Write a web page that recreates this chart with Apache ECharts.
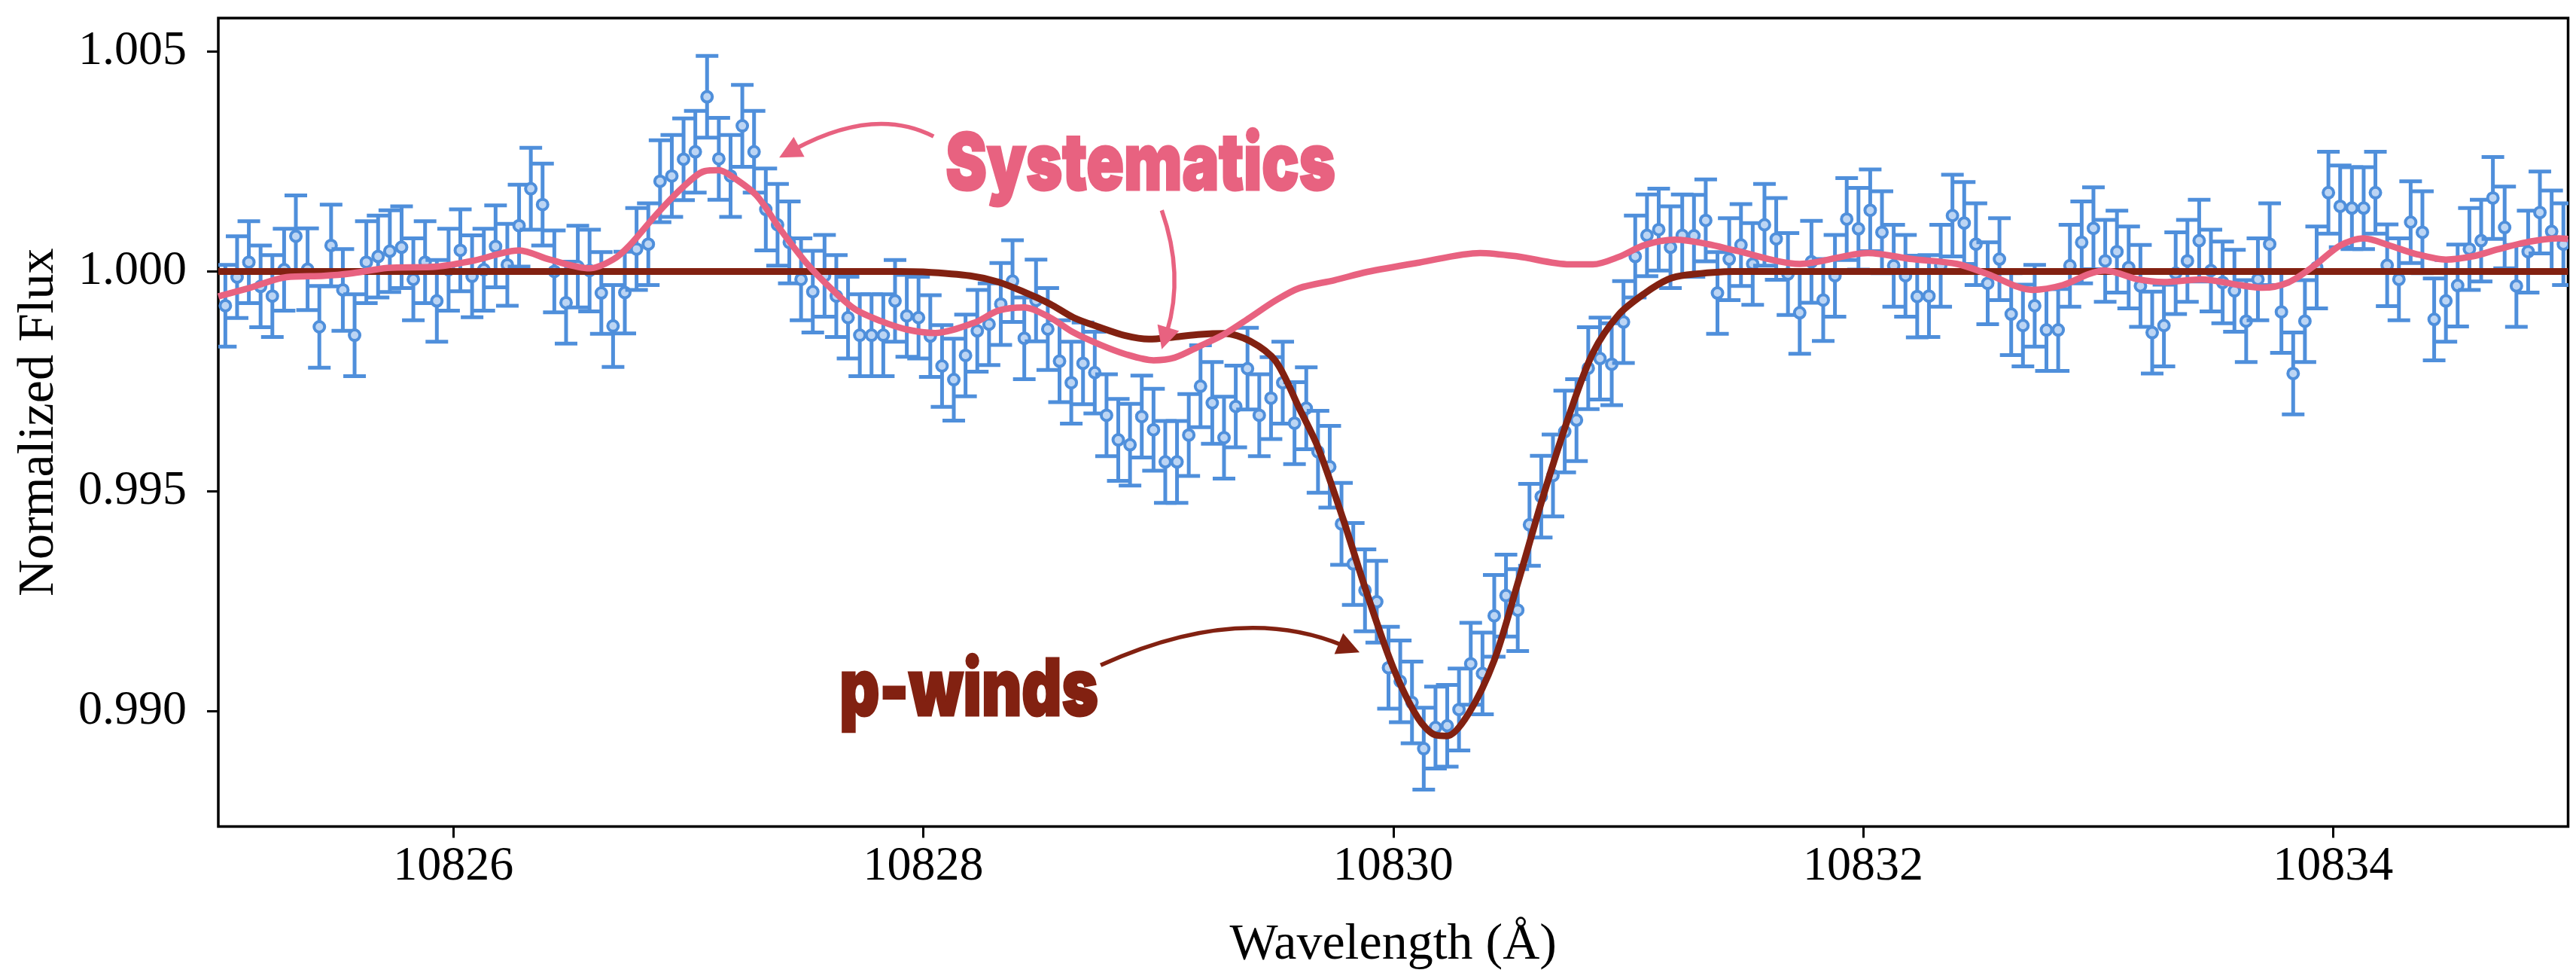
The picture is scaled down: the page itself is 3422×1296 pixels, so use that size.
<!DOCTYPE html>
<html>
  <head>
    <meta charset="utf-8" />
    <title>He I 10830 transit spectrum</title>
    <script src="https://cdn.jsdelivr.net/npm/echarts@6.0.0/dist/echarts.min.js"></script>
    <style>
      html, body { margin: 0; padding: 0; background: #fff; }
      #chart { width: 3422px; height: 1296px; }
    </style>
  </head>
  <body>
    <div id="chart"></div>
    <script type="text/javascript">
      // observed spectrum (wavelength in Angstrom, normalized flux)
      const wavelength = [
        10825.03, 10825.08, 10825.13, 10825.18, 10825.23, 10825.28, 10825.33, 10825.38, 10825.43, 10825.48,
        10825.53, 10825.58, 10825.63, 10825.68, 10825.73, 10825.78, 10825.83, 10825.88, 10825.93, 10825.98,
        10826.03, 10826.08, 10826.13, 10826.18, 10826.23, 10826.28, 10826.33, 10826.38, 10826.43, 10826.48,
        10826.53, 10826.58, 10826.63, 10826.68, 10826.73, 10826.78, 10826.83, 10826.88, 10826.93, 10826.98,
        10827.03, 10827.08, 10827.13, 10827.18, 10827.23, 10827.28, 10827.33, 10827.38, 10827.43, 10827.48,
        10827.53, 10827.58, 10827.63, 10827.68, 10827.73, 10827.78, 10827.83, 10827.88, 10827.93, 10827.98,
        10828.03, 10828.08, 10828.13, 10828.18, 10828.23, 10828.28, 10828.33, 10828.38, 10828.43, 10828.48,
        10828.53, 10828.58, 10828.63, 10828.68, 10828.73, 10828.78, 10828.83, 10828.88, 10828.93, 10828.98,
        10829.03, 10829.08, 10829.13, 10829.18, 10829.23, 10829.28, 10829.33, 10829.38, 10829.43, 10829.48,
        10829.53, 10829.58, 10829.63, 10829.68, 10829.73, 10829.78, 10829.83, 10829.88, 10829.93, 10829.98,
        10830.03, 10830.08, 10830.13, 10830.18, 10830.23, 10830.28, 10830.33, 10830.38, 10830.43, 10830.48,
        10830.53, 10830.58, 10830.63, 10830.68, 10830.73, 10830.78, 10830.83, 10830.88, 10830.93, 10830.98,
        10831.03, 10831.08, 10831.13, 10831.18, 10831.23, 10831.28, 10831.33, 10831.38, 10831.43, 10831.48,
        10831.53, 10831.58, 10831.63, 10831.68, 10831.73, 10831.78, 10831.83, 10831.88, 10831.93, 10831.98,
        10832.03, 10832.08, 10832.13, 10832.18, 10832.23, 10832.28, 10832.33, 10832.38, 10832.43, 10832.48,
        10832.53, 10832.58, 10832.63, 10832.68, 10832.73, 10832.78, 10832.83, 10832.88, 10832.93, 10832.98,
        10833.03, 10833.08, 10833.13, 10833.18, 10833.23, 10833.28, 10833.33, 10833.38, 10833.43, 10833.48,
        10833.53, 10833.58, 10833.63, 10833.68, 10833.73, 10833.78, 10833.83, 10833.88, 10833.93, 10833.98,
        10834.03, 10834.08, 10834.13, 10834.18, 10834.23, 10834.28, 10834.33, 10834.38, 10834.43, 10834.48,
        10834.53, 10834.58, 10834.63, 10834.68, 10834.73, 10834.78, 10834.83, 10834.88, 10834.93, 10834.98
      ];
      const flux = [
        0.99922, 0.99987, 1.00021, 0.99966, 0.99944, 1.00004, 1.00080, 1.00005, 0.99874, 1.00059,
        0.99958, 0.99855, 1.00021, 1.00034, 1.00046, 1.00055, 0.99982, 1.00021, 0.99933, 1.00004,
        1.00048, 0.99989, 1.00004, 1.00057, 1.00015, 1.00104, 1.00188, 1.00152, 1.00000, 0.99929,
        1.00011, 1.00002, 0.99951, 0.99876, 0.99952, 1.00051, 1.00062, 1.00205, 1.00217, 1.00255,
        1.00272, 1.00397, 1.00256, 1.00217, 1.00331, 1.00272, 1.00141, 1.00106, 1.00066, 0.99982,
        0.99954, 0.99990, 0.99944, 0.99895, 0.99855, 0.99855, 0.99855, 0.99933, 0.99899, 0.99895,
        0.99853, 0.99785, 0.99754, 0.99809, 0.99865, 0.99880, 0.99926, 0.99978, 0.99848, 0.99934,
        0.99869, 0.99796, 0.99747, 0.99791, 0.99770, 0.99673, 0.99617, 0.99606, 0.99670, 0.99640,
        0.99567, 0.99567, 0.99628, 0.99739, 0.99701, 0.99622, 0.99693, 0.99779, 0.99673, 0.99712,
        0.99747, 0.99655, 0.99689, 0.99590, 0.99556, 0.99426, 0.99335, 0.99275, 0.99249, 0.99099,
        0.99068, 0.99020, 0.98915, 0.98963, 0.98967, 0.99004, 0.99108, 0.99086, 0.99217, 0.99263,
        0.99230, 0.99424, 0.99488, 0.99536, 0.99636, 0.99662, 0.99780, 0.99802, 0.99789, 0.99885,
        1.00034, 1.00082, 1.00095, 1.00055, 1.00082, 1.00081, 1.00116, 0.99951, 1.00028, 1.00060,
        1.00017, 1.00106, 1.00074, 0.99994, 0.99906, 1.00022, 0.99935, 0.99990, 1.00119, 1.00097,
        1.00139, 1.00089, 1.00013, 0.99990, 0.99943, 0.99944, 1.00013, 1.00127, 1.00110, 1.00062,
        0.99973, 1.00028, 0.99903, 0.99877, 0.99922, 0.99867, 0.99867, 1.00013, 1.00066, 1.00098,
        1.00024, 1.00045, 1.00009, 0.99967, 0.99861, 0.99877, 0.99996, 1.00024, 1.00070, 1.00002,
        0.99975, 0.99956, 0.99887, 0.99982, 1.00062, 0.99908, 0.99768, 0.99887, 1.00009, 1.00179,
        1.00148, 1.00144, 1.00144, 1.00179, 1.00014, 0.99982, 1.00112, 1.00089, 0.99891, 0.99933,
        0.99968, 1.00051, 1.00070, 1.00167, 1.00100, 0.99967, 1.00045, 1.00134, 1.00091, 1.00062
      ];
      const fluxError = 0.00093; // about the same for every pixel

      // systematics model (GP-like curve)
      const systematics = [
        [10825.00, 0.99943], [10825.13, 0.99962], [10825.29, 0.99987], [10825.45, 0.99990],
        [10825.56, 0.99995], [10825.72, 1.00008], [10825.93, 1.00011], [10826.09, 1.00025],
        [10826.28, 1.00048], [10826.41, 1.00027], [10826.58, 1.00007], [10826.68, 1.00027],
        [10826.75, 1.00059], [10826.86, 1.00127], [10826.97, 1.00188], [10827.07, 1.00228],
        [10827.13, 1.00230], [10827.18, 1.00218], [10827.29, 1.00173], [10827.39, 1.00097],
        [10827.50, 1.00021], [10827.61, 0.99960], [10827.71, 0.99914], [10827.82, 0.99887],
        [10827.93, 0.99868], [10828.05, 0.99860], [10828.22, 0.99884], [10828.32, 0.99911],
        [10828.43, 0.99918], [10828.54, 0.99895], [10828.64, 0.99861], [10828.75, 0.99834],
        [10828.86, 0.99812], [10828.98, 0.99798], [10829.07, 0.99804], [10829.18, 0.99831],
        [10829.28, 0.99857], [10829.39, 0.99895], [10829.50, 0.99934], [10829.60, 0.99962],
        [10829.75, 0.99980], [10829.89, 0.99999], [10830.11, 1.00020], [10830.37, 1.00042],
        [10830.53, 1.00034], [10830.75, 1.00016], [10830.85, 1.00016], [10830.96, 1.00033],
        [10831.07, 1.00060], [10831.20, 1.00072], [10831.34, 1.00062], [10831.46, 1.00047],
        [10831.73, 1.00017], [10832.02, 1.00042], [10832.21, 1.00028], [10832.40, 1.00017],
        [10832.53, 0.99994], [10832.72, 0.99958], [10832.85, 0.99969], [10832.96, 0.99994],
        [10833.03, 1.00002], [10833.17, 0.99982], [10833.28, 0.99976], [10833.44, 0.99982],
        [10833.60, 0.99969], [10833.70, 0.99963], [10833.81, 0.99975], [10833.92, 1.00013],
        [10834.03, 1.00059], [10834.13, 1.00075], [10834.24, 1.00059], [10834.35, 1.00040],
        [10834.48, 1.00027], [10834.60, 1.00035], [10834.70, 1.00050], [10834.82, 1.00066],
        [10834.96, 1.00075], [10835.00, 1.00074]
      ];

      // p-winds model
      const pWinds = [
        [10825.00, 1.00000], [10827.90, 1.00000], [10828.00, 0.99999], [10828.20, 0.99990],
        [10828.32, 0.99976], [10828.43, 0.99953], [10828.54, 0.99926], [10828.64, 0.99895],
        [10828.75, 0.99873], [10828.86, 0.99854], [10828.96, 0.99846], [10829.07, 0.99851],
        [10829.18, 0.99857], [10829.28, 0.99859], [10829.39, 0.99842], [10829.50, 0.99796],
        [10829.60, 0.99689], [10829.68, 0.99600], [10829.785, 0.99440], [10829.89, 0.99265],
        [10830.00, 0.99099], [10830.105, 0.98985], [10830.18, 0.98946], [10830.23, 0.98944],
        [10830.32, 0.98994], [10830.43, 0.99116], [10830.53, 0.99291], [10830.64, 0.99492],
        [10830.75, 0.99675], [10830.85, 0.99815], [10830.96, 0.99902], [10831.07, 0.99950],
        [10831.17, 0.99982], [10831.25, 0.99992], [10831.45, 1.00000], [10835.00, 1.00000]
      ];

      const xTicks = [10826, 10828, 10830, 10832, 10834];
      const yTicks = [0.990, 0.995, 1.000, 1.005];

      // annotations, anchored in data coordinates
      const labels = [
        { text: 'Systematics', at: [10828.925, 1.00240], width: 520, color: '#e86280' },
        { text: 'p-winds', at: [10828.194, 0.99044], width: 346, color: '#822111' }
      ];
      const arrows = [
        { from: [10828.044, 1.00307], ctrl: [10827.794, 1.00376], to: [10827.387, 1.00259], color: '#e86280' },
        { from: [10829.015, 1.00139], ctrl: [10829.111, 0.99993], to: [10829.015, 0.99823], color: '#e86280' },
        { from: [10828.755, 0.99105], ctrl: [10829.345, 0.99248], to: [10829.857, 0.99134], color: '#822111' }
      ];

      const BLUE = '#4f8fdb';
      const PINK = '#e86280';
      const DARKRED = '#822111';
      const SERIF = "'Liberation Serif', 'DejaVu Serif', serif";

      const points = wavelength.map((w, i) => [w, flux[i], flux[i] - fluxError, flux[i] + fluxError]);

      function renderErrorBar(params, api) {
        const x = api.value(0);
        const mid = api.coord([x, api.value(1)]);
        const lo = api.coord([x, api.value(2)]);
        const hi = api.coord([x, api.value(3)]);
        const cap = 15;
        const bar = { stroke: BLUE, lineWidth: 5 };
        return {
          type: 'group',
          children: [
            { type: 'line', shape: { x1: hi[0], y1: hi[1], x2: lo[0], y2: lo[1] }, style: bar },
            { type: 'line', shape: { x1: hi[0] - cap, y1: hi[1], x2: hi[0] + cap, y2: hi[1] }, style: bar },
            { type: 'line', shape: { x1: lo[0] - cap, y1: lo[1], x2: lo[0] + cap, y2: lo[1] }, style: bar },
            { type: 'circle', shape: { cx: mid[0], cy: mid[1], r: 7 }, style: { fill: '#bcd5f4', stroke: BLUE, lineWidth: 4 } }
          ]
        };
      }

      const chart = echarts.init(document.getElementById('chart'), null, { renderer: 'canvas' });

      chart.setOption({
        animation: false,
        backgroundColor: '#ffffff',
        grid: {
          left: 290, right: 10.5, top: 24, bottom: 198.5,
          show: true, borderColor: '#000', borderWidth: 3.5, backgroundColor: 'transparent'
        },
        xAxis: {
          type: 'value',
          min: 10825,
          max: 10835,
          name: 'Wavelength (Å)',
          nameLocation: 'middle',
          nameGap: 124,
          nameTextStyle: { fontFamily: SERIF, fontSize: 68, color: '#000' },
          axisLine: { show: false },
          axisTick: { show: true, inside: false, length: 15, customValues: xTicks, lineStyle: { color: '#000', width: 3 } },
          axisLabel: {
            customValues: xTicks, margin: 22, fontFamily: SERIF, fontSize: 64, color: '#000',
            formatter: v => String(v)
          },
          splitLine: { show: false }
        },
        yAxis: {
          type: 'value',
          min: 0.98738,
          max: 1.00576,
          name: 'Normalized Flux',
          nameLocation: 'middle',
          nameRotate: 90,
          nameGap: 204,
          nameTextStyle: { fontFamily: SERIF, fontSize: 68, color: '#000' },
          axisLine: { show: false },
          axisTick: { show: true, inside: false, length: 15, customValues: yTicks, lineStyle: { color: '#000', width: 3 } },
          axisLabel: {
            customValues: yTicks, margin: 42, fontFamily: SERIF, fontSize: 64, color: '#000',
            formatter: v => v.toFixed(3)
          },
          splitLine: { show: false }
        },
        series: [
          {
            type: 'custom',
            name: 'data',
            renderItem: renderErrorBar,
            data: points,
            encode: { x: 0, y: [1, 2, 3] },
            clip: true,
            z: 2
          },
          {
            type: 'line',
            name: 'p-winds',
            data: pWinds,
            showSymbol: false,
            smooth: 0.3,
            clip: true,
            lineStyle: { color: DARKRED, width: 9 },
            z: 3
          },
          {
            type: 'line',
            name: 'Systematics',
            data: systematics,
            showSymbol: false,
            smooth: 0.3,
            clip: true,
            lineStyle: { color: PINK, width: 8.5 },
            z: 4
          }
        ]
      });

      // annotation text and curved arrows
      const toPx = p => chart.convertToPixel({ gridIndex: 0 }, p);
      const measure = document.createElement('canvas').getContext('2d');
      const LABEL_FONT = "900 105px Inter, 'Roboto', 'DejaVu Sans', sans-serif";
      const graphics = [];

      labels.forEach(l => {
        measure.font = LABEL_FONT;
        const w = measure.measureText(l.text).width + 3;
        const p = toPx(l.at);
        graphics.push({
          type: 'text',
          x: p[0], y: p[1],
          scaleX: l.width / w,
          z: 100,
          style: {
            text: l.text, fill: l.color, font: LABEL_FONT,
            stroke: l.color, lineWidth: 3,
            align: 'center', verticalAlign: 'middle'
          }
        });
      });

      arrows.forEach(a => {
        const p0 = toPx(a.from), c = toPx(a.ctrl), p2 = toPx(a.to);
        let dx = p2[0] - c[0], dy = p2[1] - c[1];
        const len = Math.hypot(dx, dy);
        dx /= len; dy /= len;
        const headLen = 30, halfW = 15;
        const bx = p2[0] - dx * headLen, by = p2[1] - dy * headLen;
        graphics.push({
          type: 'bezierCurve',
          z: 100,
          shape: { x1: p0[0], y1: p0[1], cpx1: c[0], cpy1: c[1], x2: bx + dx * 6, y2: by + dy * 6 },
          style: { stroke: a.color, lineWidth: 5.5, fill: null }
        });
        graphics.push({
          type: 'polygon',
          z: 101,
          shape: { points: [[p2[0], p2[1]], [bx - dy * halfW, by + dx * halfW], [bx + dy * halfW, by - dx * halfW]] },
          style: { fill: a.color }
        });
      });

      chart.setOption({ graphic: graphics });
    </script>
  </body>
</html>
